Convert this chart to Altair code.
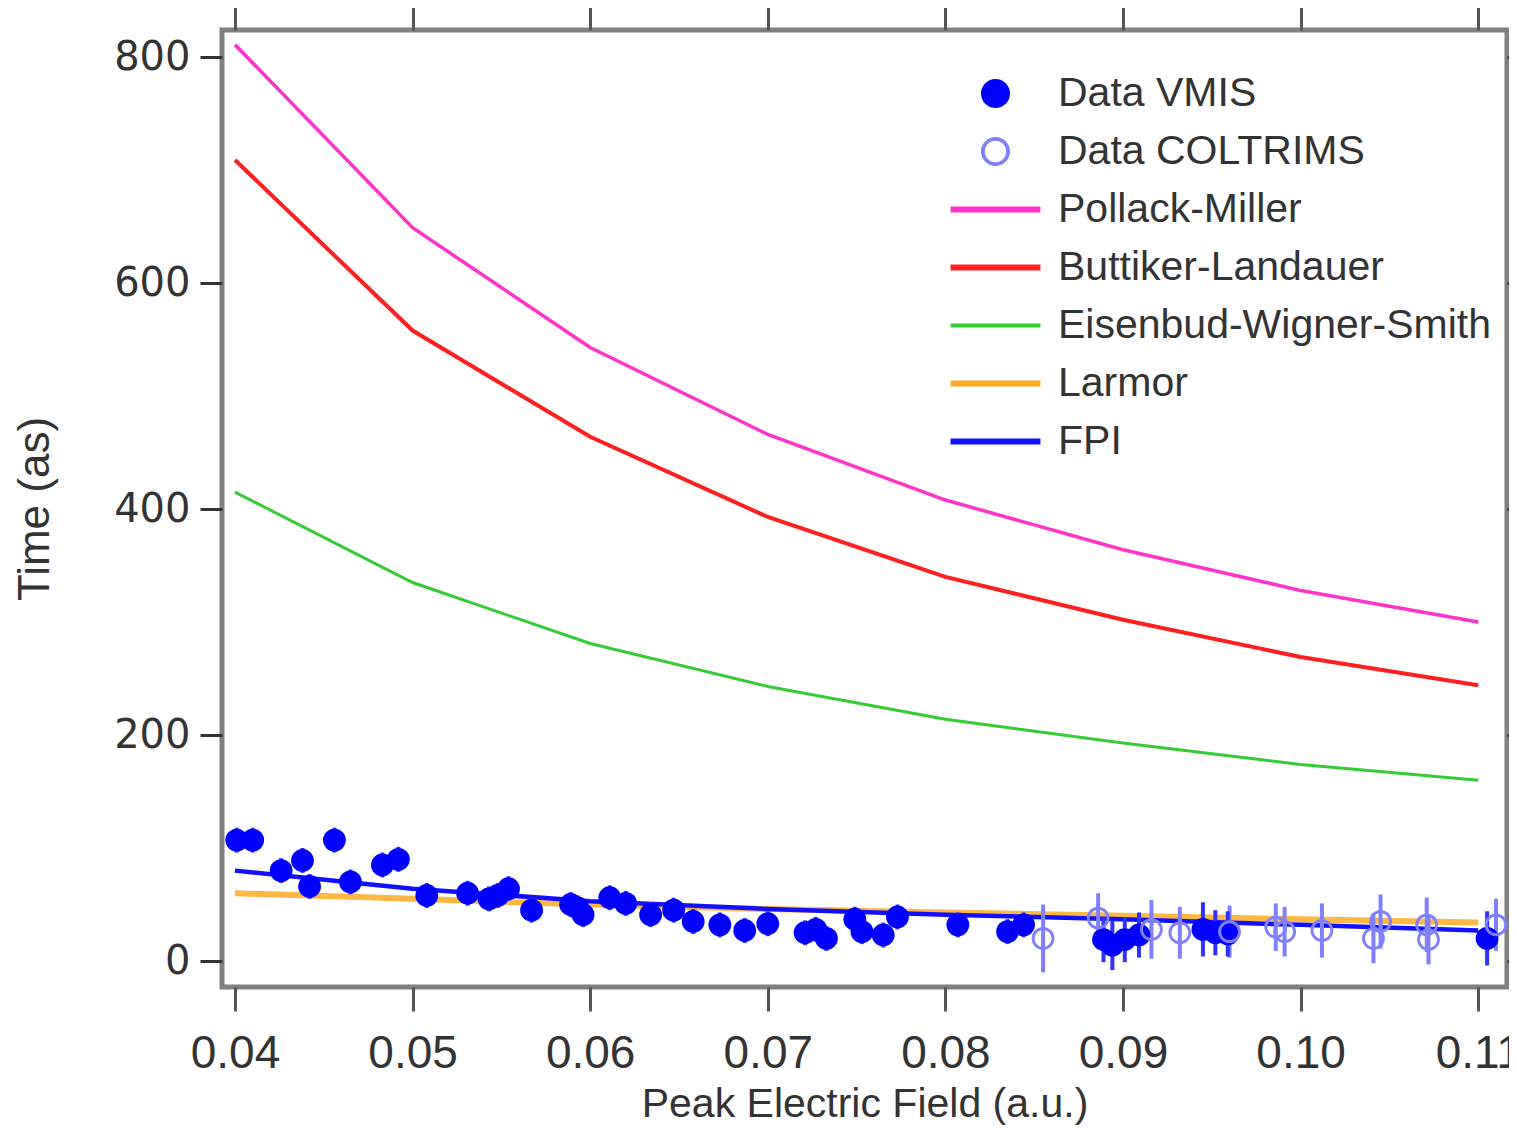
import altair as alt
import pandas as pd

# ---------------- data ----------------
x_grid = [0.04, 0.05, 0.06, 0.07, 0.08, 0.09, 0.10, 0.11]
pollack_miller = [811, 649, 543, 466, 408, 364, 328, 300]
buttiker_landauer = [709, 558, 464, 393, 340, 302, 269, 244]
eisenbud_wigner_smith = [415, 335, 281, 243, 214, 193, 174, 160]
larmor = [60, 55, 50, 46, 43, 40, 37, 34]
fpi = [80, 64, 53, 46, 41, 37, 32, 27]

vmis_x = [0.0401, 0.0410, 0.0426, 0.0438, 0.0442, 0.0456, 0.0465, 0.0483, 0.0492, 0.0508,
          0.0531, 0.0543, 0.0548, 0.0554, 0.0567, 0.0589, 0.0593, 0.0596, 0.0611, 0.0620,
          0.0634, 0.0647, 0.0658, 0.0673, 0.0687, 0.0700, 0.0721, 0.0727, 0.0733, 0.0749,
          0.0753, 0.0765, 0.0773, 0.0807, 0.0835, 0.0844, 0.0889, 0.0894, 0.0901, 0.0909,
          0.0945, 0.0952, 0.0959, 0.1105]
vmis_y = [107, 107, 80, 89, 66, 107, 70, 85, 90, 58,
          60, 55, 58, 64, 45, 50, 47, 41, 56, 51,
          41, 45, 35, 32, 27, 33, 25, 28, 20, 37,
          26, 23, 39, 32, 26, 32, 19, 14, 19, 23,
          28, 25, 24, 20]
vmis_err = [11, 11, 11, 11, 11, 11, 11, 11, 11, 11,
            11, 11, 11, 11, 11, 11, 11, 11, 11, 11,
            11, 11, 11, 11, 11, 11, 11, 11, 11, 11,
            11, 11, 11, 11, 11, 11, 20, 22, 20, 20,
            24, 20, 20, 24]

coltrims_x = [0.0855, 0.0886, 0.0916, 0.0932, 0.0960, 0.0986, 0.0991, 0.1012, 0.1041, 0.1045,
              0.1071, 0.1072, 0.1110]
coltrims_y = [20, 38, 28, 25, 26, 30, 26, 27, 20, 35, 32, 19, 32]
coltrims_err = [30, 22, 26, 23, 23, 21, 22, 24, 22, 24, 24, 22, 23]

x_ticks = [0.04, 0.05, 0.06, 0.07, 0.08, 0.09, 0.10, 0.11]
y_ticks = [0, 200, 400, 600, 800]

series_names = ["Data VMIS", "Data COLTRIMS", "Pollack-Miller", "Buttiker-Landauer",
                "Eisenbud-Wigner-Smith", "Larmor", "FPI"]
series_colors = ["#0000ff", "#8080ff", "#ff33cc", "#ff1f1f", "#33cc33", "#ffaa22", "#1010ff"]

ring = ("M1,0A1,1,0,1,0,-1,0A1,1,0,1,0,1,0Z"
        "M0.74,0A0.74,0.74,0,1,1,-0.74,0A0.74,0.74,0,1,1,0.74,0Z")
def bar(h):
    return f"M-3.1,-{h}H3.1V{h}H-3.1Z"
series_shapes = ["circle", ring, bar(0.2), bar(0.2), bar(0.13), bar(0.2), bar(0.2)]

curve_widths = [3.5, 4, 3, 6, 4.5]
curve_opacity = [1, 1, 1, 0.85, 1]

# ---------------- tables ----------------
curves = {
    "Pollack-Miller": pollack_miller,
    "Buttiker-Landauer": buttiker_landauer,
    "Eisenbud-Wigner-Smith": eisenbud_wigner_smith,
    "Larmor": larmor,
    "FPI": fpi,
}
curve_rows = []
for name, vals in curves.items():
    for xv, yv in zip(x_grid, vals):
        curve_rows.append({"series": name, "x": xv, "y": yv})
curve_df = pd.DataFrame(curve_rows)

pts_df = pd.DataFrame(
    [{"series": "Data VMIS", "x": a, "y": b, "lo": b - e, "hi": b + e}
     for a, b, e in zip(vmis_x, vmis_y, vmis_err)]
    + [{"series": "Data COLTRIMS", "x": a, "y": b, "lo": b - e, "hi": b + e}
       for a, b, e in zip(coltrims_x, coltrims_y, coltrims_err)]
)

# ---------------- scales / axes ----------------
x_scale = alt.Scale(domain=[0.03927, 0.11162], nice=False, zero=False)
y_scale = alt.Scale(domain=[-23, 824], nice=False, zero=False)

x_axis = alt.Axis(orient="bottom", values=x_ticks, format=".2f", title="Peak Electric Field (a.u.)",
                  tickSize=24, tickWidth=3, tickColor="#555555",
                  labelFont="Liberation Sans", labelFontSize=46, labelColor="#333333", labelPadding=20,
                  titleFont="Liberation Sans", titleFontSize=41, titleFontWeight="normal",
                  titleColor="#333333", titlePadding=8, domain=False, grid=False)
y_axis = alt.Axis(orient="left", values=y_ticks, title="Time (as)",
                  tickSize=22, tickWidth=3, tickColor="#333333",
                  labelFont="DejaVu Sans", labelFontSize=40, labelColor="#333333", labelPadding=10,
                  titleFont="Liberation Sans", titleFontSize=44, titleFontWeight="normal",
                  titleColor="#333333", titlePadding=56, domain=False, grid=False)

def X():
    return alt.X("x:Q", scale=x_scale, axis=x_axis)

def Y():
    return alt.Y("y:Q", scale=y_scale, axis=y_axis)

layers = []
for i, name in enumerate(["Pollack-Miller", "Buttiker-Landauer", "Eisenbud-Wigner-Smith", "Larmor", "FPI"]):
    col = series_colors[series_names.index(name)]
    layers.append(
        alt.Chart(curve_df[curve_df.series == name]).mark_line(
            color=col, strokeWidth=curve_widths[i], opacity=curve_opacity[i]
        ).encode(x=X(), y=Y())
    )

err_vmis = alt.Chart(pts_df[pts_df.series == "Data VMIS"]).mark_rule(
    color="#3030ff", strokeWidth=4).encode(x=X(), y=alt.Y("lo:Q", scale=y_scale, axis=y_axis), y2="hi:Q")
err_col = alt.Chart(pts_df[pts_df.series == "Data COLTRIMS"]).mark_rule(
    color="#8080ff", strokeWidth=4).encode(x=X(), y=alt.Y("lo:Q", scale=y_scale, axis=y_axis), y2="hi:Q")

points = alt.Chart(pts_df).mark_point(filled=True, size=520, opacity=1, strokeWidth=0).encode(
    x=X(), y=Y(),
    color=alt.Color("series:N", scale=alt.Scale(domain=series_names, range=series_colors),
                    legend=alt.Legend(title=None)),
    shape=alt.Shape("series:N", scale=alt.Scale(domain=series_names, range=series_shapes),
                    legend=alt.Legend(title=None)),
)

main = alt.layer(*layers, err_col, err_vmis, points)

frame_axes = alt.Chart(curve_df).mark_point(opacity=0).encode(
    x=alt.X("x:Q", scale=x_scale, axis=alt.Axis(orient="top", values=x_ticks, labels=False, title=None,
                                                   tickSize=24, tickWidth=3, tickColor="#555555",
                                                   domain=False, grid=False)),
    y=alt.Y("y:Q", scale=y_scale, axis=alt.Axis(orient="right", values=y_ticks, labels=False, title=None,
                                                   tickSize=14, tickWidth=3, tickColor="#333333",
                                                   domain=False, grid=False)),
)

chart = alt.layer(main, frame_axes).resolve_axis(x="independent", y="independent").properties(
    width=1285, height=957,
    autosize=alt.AutoSizeParams(type="none"),
    padding={"left": 214, "top": 22, "right": 2, "bottom": 138},
).configure_view(stroke="#808080", strokeWidth=5).configure_legend(
    orient="none", legendX=753, legendY=43, padding=0,
    labelFont="Liberation Sans", labelFontSize=41, labelColor="#333333", labelLimit=800,
    symbolSize=841, symbolStrokeWidth=0, rowPadding=16, labelOffset=42,
)

chart.save("out.html", embed_options={"renderer": "svg", "actions": False})
